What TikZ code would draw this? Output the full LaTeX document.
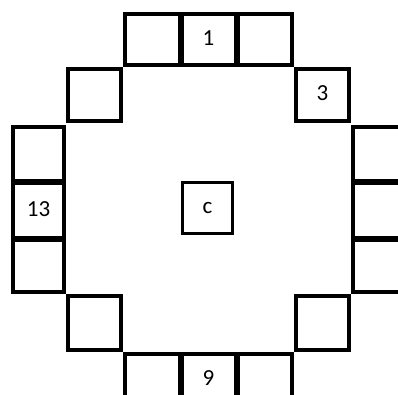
\documentclass[tikz,border=0pt]{standalone}
\usepackage{fontspec}
\setmainfont{Carlito}
\begin{document}
\begin{tikzpicture}[x=1pt,y=-1pt,
  sq/.style={draw=black, line width=4pt, inner sep=0pt, outer sep=0pt, font=\fontsize{23}{27}\selectfont},
  divider/.style={line width=6pt, draw=black}]
\useasboundingbox (0,0) rectangle (398,394);
% top row
\node[sq, minimum width=55.5pt, minimum height=51pt] (t1) at (152.75,39.5) {};
\node[sq, minimum width=56pt, minimum height=51pt, text depth=2pt] (t2) at (208.5,39.5) {1};
\node[sq, minimum width=55.5pt, minimum height=51pt] (t3) at (264.25,39.5) {};
% diagonal squares
\node[sq, minimum width=53pt, minimum height=52pt] (dl1) at (94.5,95) {};
\node[sq, minimum width=53pt, minimum height=52pt, text depth=3pt] (dr1) at (322.5,95) {3};
\node[sq, minimum width=53pt, minimum height=54pt] (dl2) at (94.5,323) {};
\node[sq, minimum width=53pt, minimum height=54pt] (dr2) at (322.5,323) {};
% left column
\node[sq, minimum width=51pt, minimum height=54.5pt] (l1) at (38.5,154.25) {};
\node[sq, minimum width=51pt, minimum height=57pt, text depth=1pt] (l2) at (38.5,210) {13};
\node[sq, minimum width=51pt, minimum height=53.5pt] (l3) at (38.5,265.25) {};
% right column
\node[sq, minimum width=51pt, minimum height=54.5pt] (r1) at (378.5,154.25) {};
\node[sq, minimum width=51pt, minimum height=57pt] (r2) at (378.5,210) {};
\node[sq, minimum width=51pt, minimum height=53.5pt] (r3) at (378.5,265.25) {};
% bottom row
\node[sq, minimum width=55.5pt, minimum height=53pt] (b1) at (152.75,380.5) {};
\node[sq, minimum width=56pt, minimum height=53pt, text depth=5pt] (b2) at (208.5,380.5) {9};
\node[sq, minimum width=55.5pt, minimum height=53pt] (b3) at (264.25,380.5) {};
% centre
\node[sq, line width=3pt, minimum width=50pt, minimum height=51pt] (c) at (207.5,208) {c};
% thick dividers
\draw[divider] (t1.north east) -- (t1.south east);
\draw[divider] (t3.north west) -- (t3.south west);
\draw[divider] (b1.north east) -- (b1.south east);
\draw[divider] (b3.north west) -- (b3.south west);
\draw[divider] (l1.south west) -- (l1.south east);
\draw[divider] (l3.north west) -- (l3.north east);
\draw[divider] (r1.south west) -- (r1.south east);
\draw[divider] (r3.north west) -- (r3.north east);
\end{tikzpicture}
\end{document}
